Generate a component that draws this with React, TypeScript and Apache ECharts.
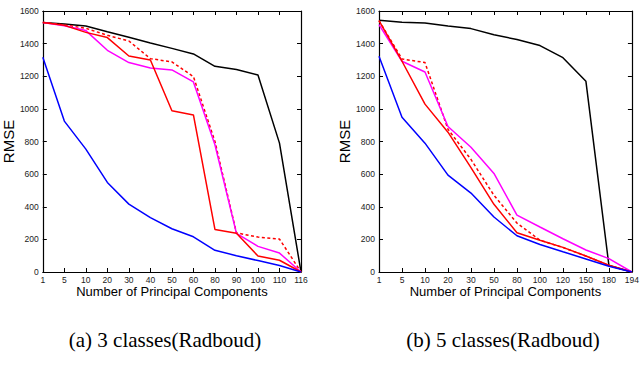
import React, { useEffect, useRef } from "react";
import * as echarts from "echarts";

const leftCats = ["1", "5", "10", "20", "30", "40", "50", "60", "80", "90", "100", "110", "116"];
const leftBlack = [1530, 1520, 1508, 1473, 1439, 1404, 1371, 1337, 1261, 1241, 1208, 790, 0];
const leftRed = [1530, 1512, 1469, 1437, 1324, 1300, 988, 963, 261, 237, 98, 72, 0];
const leftRedDashed = [1530, 1515, 1494, 1451, 1416, 1308, 1288, 1198, 800, 240, 214, 202, 0];
const leftMagenta = [1530, 1510, 1480, 1359, 1284, 1251, 1239, 1165, 780, 237, 157, 116, 0];
const leftBlue = [1316, 925, 753, 549, 416, 333, 265, 216, 133, 100, 70, 40, 0];

const rightCats = ["1", "5", "10", "20", "30", "50", "80", "100", "120", "150", "180", "194"];
const rightBlack = [1543, 1531, 1527, 1508, 1492, 1455, 1425, 1388, 1314, 1169, 40, 0];
const rightRed = [1541, 1292, 1029, 857, 640, 415, 241, 195, 151, 98, 41, 0];
const rightRedDashed = [1541, 1306, 1284, 875, 690, 470, 300, 195, 150, 98, 40, 0];
const rightMagenta = [1516, 1292, 1226, 892, 765, 604, 349, 276, 204, 135, 82, 0];
const rightBlue = [1322, 949, 790, 594, 484, 337, 222, 169, 124, 80, 35, 0];

const yMin = 0;
const yMax = 1600;
const yStep = 200;

const captionLeft = "(a) 3 classes(Radboud)";
const captionRight = "(b) 5 classes(Radboud)";
const xName = "Number of Principal Components";
const yName = "RMSE";

const FONT = "Liberation Sans, Arial, Helvetica, sans-serif";

function bottomX(grid: number, cats: string[]) {
  return {
    gridIndex: grid,
    type: "category",
    data: cats,
    boundaryGap: false,
    axisLine: { show: true, onZero: false, lineStyle: { color: "#000", width: 1.2 } },
    axisTick: { show: true, inside: true, length: 4, interval: 0, alignWithLabel: true, lineStyle: { color: "#000" } },
    axisLabel: { interval: 0, color: "#222", fontSize: 8.5, margin: 3, fontFamily: FONT },
    splitLine: { show: false },
    name: xName,
    nameLocation: "middle",
    nameGap: 13,
    nameMoveOverlap: false,
    nameTextStyle: { fontSize: 13, color: "#000", fontFamily: FONT },
  };
}

function topX(grid: number, cats: string[]) {
  return {
    gridIndex: grid,
    type: "category",
    position: "top",
    data: cats,
    boundaryGap: false,
    axisLine: { show: true, onZero: false, lineStyle: { color: "#000", width: 1.2 } },
    axisTick: { show: true, inside: true, length: 4, interval: 0, lineStyle: { color: "#000" } },
    axisLabel: { show: false },
    splitLine: { show: false },
  };
}

function leftY(grid: number) {
  return {
    gridIndex: grid,
    type: "value",
    min: yMin,
    max: yMax,
    interval: yStep,
    axisLine: { show: true, lineStyle: { color: "#000", width: 1.2 } },
    axisTick: { show: true, inside: true, length: 4, lineStyle: { color: "#000" } },
    axisLabel: { color: "#222", fontSize: 8.5, margin: 4, fontFamily: FONT, formatter: (v: number) => String(v) },
    splitLine: { show: false },
    name: yName,
    nameLocation: "middle",
    nameGap: 22,
    nameTextStyle: { fontSize: 15, color: "#000", fontFamily: FONT },
  };
}

function rightY(grid: number) {
  return {
    gridIndex: grid,
    type: "value",
    position: "right",
    min: yMin,
    max: yMax,
    interval: yStep,
    axisLine: { show: true, lineStyle: { color: "#000", width: 1.2 } },
    axisTick: { show: true, inside: true, length: 4, lineStyle: { color: "#000" } },
    axisLabel: { show: false },
    splitLine: { show: false },
  };
}

function line(data: number[], color: string, axis: number, dashed = false, width = 1.5) {
  return {
    type: "line",
    data,
    xAxisIndex: axis,
    yAxisIndex: axis,
    symbol: "none",
    silent: true,
    lineStyle: { color, width, type: dashed ? [3, 2.5] : "solid" },
  };
}

export default function App() {
  const ref = useRef<HTMLDivElement>(null);
  useEffect(() => {
    if (!ref.current) return;
    const chart = echarts.init(ref.current, undefined, { renderer: "svg" });
    chart.setOption({
      animation: false,
      backgroundColor: "#fff",
      grid: [
        { left: 42, top: 11, width: 259, height: 261 },
        { left: 379, top: 11, width: 258, height: 261 },
      ],
      xAxis: [bottomX(0, leftCats), topX(0, leftCats), bottomX(1, rightCats), topX(1, rightCats)],
      yAxis: [leftY(0), rightY(0), leftY(1), rightY(1)],
      series: [
        line(leftBlack, "#000000", 0),
        line(leftRedDashed, "#ff0000", 0, true),
        line(leftMagenta, "#ff00ff", 0),
        line(leftRed, "#ff0000", 0),
        line(leftBlue, "#0000ff", 0),
        line(rightBlack, "#000000", 2),
        line(rightRedDashed, "#ff0000", 2, true),
        line(rightMagenta, "#ff00ff", 2),
        line(rightRed, "#ff0000", 2),
        line(rightBlue, "#0000ff", 2),
      ],
      graphic: [
        {
          type: "text",
          x: 165,
          y: 340,
          style: {
            text: captionLeft,
            font: "21px 'Liberation Serif', 'Times New Roman', serif",
            fill: "#000",
            align: "center",
            verticalAlign: "middle",
          },
        },
        {
          type: "text",
          x: 503,
          y: 340,
          style: {
            text: captionRight,
            font: "21px 'Liberation Serif', 'Times New Roman', serif",
            fill: "#000",
            align: "center",
            verticalAlign: "middle",
          },
        },
      ],
    });
    return () => chart.dispose();
  }, []);
  return (
    <div
      ref={ref}
      style={{ position: "fixed", left: 0, top: 0, width: 642, height: 367, background: "#fff" }}
    />
  );
}
